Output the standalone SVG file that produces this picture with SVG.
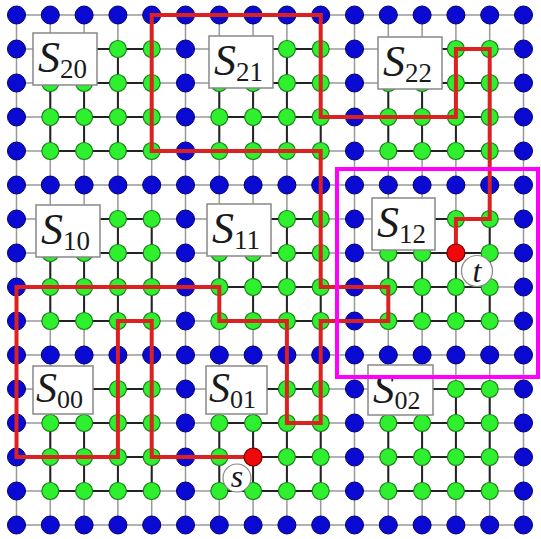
<svg xmlns="http://www.w3.org/2000/svg" xmlns:xlink="http://www.w3.org/1999/xlink" width="541" height="539" viewBox="0 0 541 539">
<style>
.g1{stroke:#999;stroke-width:1.5;fill:none}
.g2{stroke:#222;stroke-width:2;fill:none}
.bl{fill:#0a0ad2;stroke:#00006a;stroke-width:1}
.gr{fill:#2ef02e;stroke:#1b7f1b;stroke-width:1.2}
.rd{fill:#ee0a0a;stroke:#7a0000;stroke-width:1.2}
.path{stroke:#dd2020;stroke-width:4;fill:none;stroke-linejoin:miter}
.box{fill:#fff;stroke:#888;stroke-width:1.5}
.lab{font-family:"Liberation Serif","Times New Roman",serif;fill:#1a1a1a}
.mag{stroke:#f0f;stroke-width:4;fill:none}
</style>
<defs>
<circle id="B" r="9" class="bl"/>
<circle id="G" r="8.5" class="gr"/>
<g id="blueRow">
<use href="#B" x="16.5"/><use href="#B" x="50.3"/><use href="#B" x="84.1"/><use href="#B" x="117.9"/><use href="#B" x="151.7"/><use href="#B" x="185.5"/><use href="#B" x="219.3"/><use href="#B" x="253.1"/><use href="#B" x="286.9"/><use href="#B" x="320.7"/><use href="#B" x="354.5"/><use href="#B" x="388.3"/><use href="#B" x="422.1"/><use href="#B" x="455.9"/><use href="#B" x="489.7"/><use href="#B" x="523.5"/>
</g>
<g id="greenRow">
<use href="#B" x="16.5"/><use href="#G" x="50.3"/><use href="#G" x="84.1"/><use href="#G" x="117.9"/><use href="#G" x="151.7"/><use href="#B" x="185.5"/><use href="#G" x="219.3"/><use href="#G" x="253.1"/><use href="#G" x="286.9"/><use href="#G" x="320.7"/><use href="#B" x="354.5"/><use href="#G" x="388.3"/><use href="#G" x="422.1"/><use href="#G" x="455.9"/><use href="#G" x="489.7"/><use href="#B" x="523.5"/>
</g>
</defs>
<rect width="541" height="539" fill="#fff"/>
<g id="connectors">
<path class="g1" d="M16.5 15H523.5M16.5 49H523.5M16.5 83H523.5M16.5 117H523.5M16.5 151H523.5M16.5 185H523.5M16.5 219H523.5M16.5 253H523.5M16.5 287H523.5M16.5 321H523.5M16.5 355H523.5M16.5 389H523.5M16.5 423H523.5M16.5 457H523.5M16.5 491H523.5M16.5 525H523.5
M16.5 15V525M50.3 15V525M84.1 15V525M117.9 15V525M151.7 15V525M185.5 15V525M219.3 15V525M253.1 15V525M286.9 15V525M320.7 15V525M354.5 15V525M388.3 15V525M422.1 15V525M455.9 15V525M489.7 15V525M523.5 15V525"/>
<path class="g2" d="M50.3 49H151.7M50.3 83H151.7M50.3 117H151.7M50.3 151H151.7M50.3 49V151M84.1 49V151M117.9 49V151M151.7 49V151
M219.3 49H320.7M219.3 83H320.7M219.3 117H320.7M219.3 151H320.7M219.3 49V151M253.1 49V151M286.9 49V151M320.7 49V151
M388.3 49H489.7M388.3 83H489.7M388.3 117H489.7M388.3 151H489.7M388.3 49V151M422.1 49V151M455.9 49V151M489.7 49V151
M50.3 219H151.7M50.3 253H151.7M50.3 287H151.7M50.3 321H151.7M50.3 219V321M84.1 219V321M117.9 219V321M151.7 219V321
M219.3 219H320.7M219.3 253H320.7M219.3 287H320.7M219.3 321H320.7M219.3 219V321M253.1 219V321M286.9 219V321M320.7 219V321
M388.3 219H489.7M388.3 253H489.7M388.3 287H489.7M388.3 321H489.7M388.3 219V321M422.1 219V321M455.9 219V321M489.7 219V321
M50.3 389H151.7M50.3 423H151.7M50.3 457H151.7M50.3 491H151.7M50.3 389V491M84.1 389V491M117.9 389V491M151.7 389V491
M219.3 389H320.7M219.3 423H320.7M219.3 457H320.7M219.3 491H320.7M219.3 389V491M253.1 389V491M286.9 389V491M320.7 389V491
M388.3 389H489.7M388.3 423H489.7M388.3 457H489.7M388.3 491H489.7M388.3 389V491M422.1 389V491M455.9 389V491M489.7 389V491"/>
</g>
<g id="nodes">
<use id="row0" href="#blueRow" y="15"/>
<use id="row1" href="#greenRow" y="49"/>
<use id="row2" href="#greenRow" y="83"/>
<use id="row3" href="#greenRow" y="117"/>
<use id="row4" href="#greenRow" y="151"/>
<use id="row5" href="#blueRow" y="185"/>
<use id="row6" href="#greenRow" y="219"/>
<use id="row7" href="#greenRow" y="253"/>
<use id="row8" href="#greenRow" y="287"/>
<use id="row9" href="#greenRow" y="321"/>
<use id="row10" href="#blueRow" y="355"/>
<use id="row11" href="#greenRow" y="389"/>
<use id="row12" href="#greenRow" y="423"/>
<use id="row13" href="#greenRow" y="457"/>
<use id="row14" href="#greenRow" y="491"/>
<use id="row15" href="#blueRow" y="525"/>
</g>
<g id="labels">
<g id="S20" transform="translate(33,33)"><rect class="box" width="64" height="52"/><text class="lab" x="5" y="39"><tspan font-style="italic" font-size="44">S</tspan><tspan font-size="27" dy="6">20</tspan></text></g>
<g id="S21" transform="translate(209,36)"><rect class="box" width="64" height="52"/><text class="lab" x="5" y="39"><tspan font-style="italic" font-size="44">S</tspan><tspan font-size="27" dy="6">21</tspan></text></g>
<g id="S22" transform="translate(378,37)"><rect class="box" width="64" height="52"/><text class="lab" x="5" y="39"><tspan font-style="italic" font-size="44">S</tspan><tspan font-size="27" dy="6">22</tspan></text></g>
<g id="S10" transform="translate(36,205)"><rect class="box" width="64" height="52"/><text class="lab" x="5" y="39"><tspan font-style="italic" font-size="44">S</tspan><tspan font-size="27" dy="6">10</tspan></text></g>
<g id="S11" transform="translate(207,204)"><rect class="box" width="64" height="52"/><text class="lab" x="5" y="39"><tspan font-style="italic" font-size="44">S</tspan><tspan font-size="27" dy="6">11</tspan></text></g>
<g id="S12" transform="translate(372,198)"><rect class="box" width="63" height="52"/><text class="lab" x="5" y="39"><tspan font-style="italic" font-size="44">S</tspan><tspan font-size="27" dy="6">12</tspan></text></g>
<g id="S00" transform="translate(33,366)"><rect class="box" width="60" height="48"/><text class="lab" x="3" y="36"><tspan font-style="italic" font-size="42">S</tspan><tspan font-size="26" dy="6">00</tspan></text></g>
<g id="S01" transform="translate(206,366)"><rect class="box" width="61" height="48"/><text class="lab" x="3" y="36"><tspan font-style="italic" font-size="42">S</tspan><tspan font-size="26" dy="6">01</tspan></text></g>
<g id="S02" transform="translate(368,365)"><rect class="box" width="65" height="50"/><text class="lab" x="5" y="38"><tspan font-style="italic" font-size="43">S</tspan><tspan font-size="26" dy="6">02</tspan></text></g>
</g>
<g id="route">
<path class="path" d="M253.1 457H151.7V321H117.9V457H16.5V287H219.3V321H286.9V423H320.7V321H388.3V287H320.7V151H151.7V15H320.7V117H455.9V49H489.7V219H455.9V253"/>
</g>
<g id="s"><circle class="rd" cx="253.1" cy="457" r="9"/><circle cx="237" cy="478" r="14" fill="#fff" stroke="#888" stroke-width="1.2"/><text class="lab" x="237" y="487" font-size="32" font-style="italic" text-anchor="middle">s</text></g>
<g id="t"><circle class="rd" cx="455.9" cy="253" r="9"/><circle cx="477" cy="271" r="15.5" fill="#fff" stroke="#888" stroke-width="1.2"/><text class="lab" x="477" y="282" font-size="32" font-style="italic" text-anchor="middle">t</text></g>
<rect id="region" class="mag" x="337" y="169" width="201" height="208"/>
</svg>
